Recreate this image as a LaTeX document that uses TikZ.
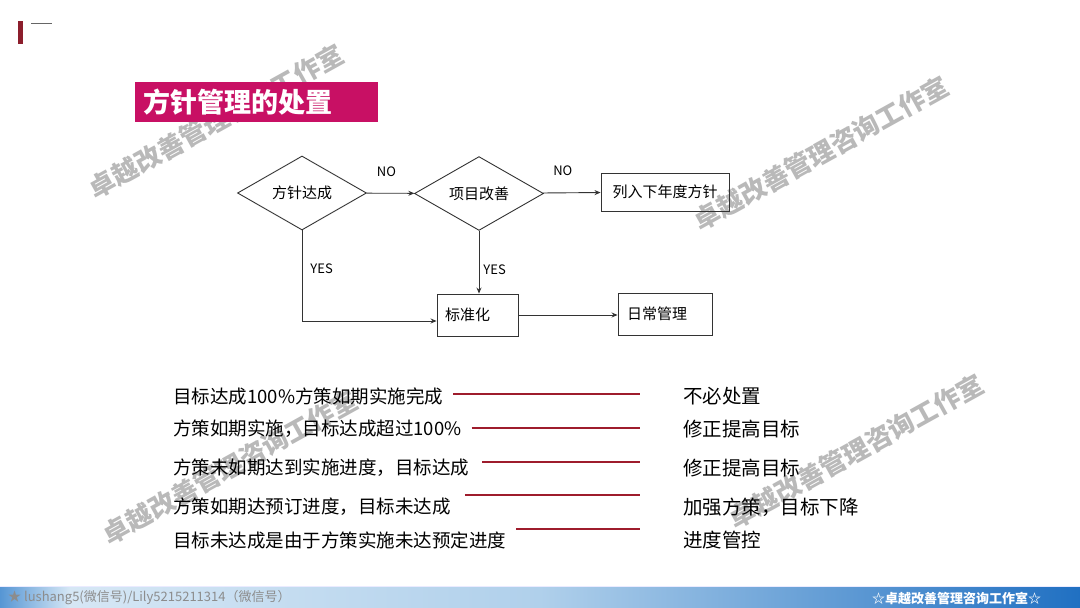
\documentclass[tikz,border=0pt]{standalone}
\usepackage{fontspec}
\setmainfont{Noto Sans CJK SC}
\usetikzlibrary{arrows.meta,shapes.geometric,positioning}
\definecolor{titlemag}{RGB}{200,16,100}
\definecolor{linkred}{RGB}{158,28,44}
\definecolor{markred}{RGB}{140,30,44}
\definecolor{barleft}{RGB}{86,150,212}
\definecolor{barlight}{RGB}{214,231,245}
\definecolor{barmid}{RGB}{176,208,235}
\definecolor{bardark}{RGB}{32,112,194}
\newcommand{\px}[1]{\fontsize{#1}{#1}\selectfont}

\begin{document}
\begin{tikzpicture}[
  x=1pt, y=-1pt,
  decision/.style={diamond, draw=black!80, line width=0.9pt, minimum width=129pt, minimum height=66pt, inner sep=0pt, font=\px{15}},
  process/.style={rectangle, draw=black!80, line width=0.9pt, inner ysep=0pt, font=\px{15}},
  flow/.style={draw=black!80, line width=0.9pt, -{Stealth[length=6pt,width=5pt]}},
  flow label/.style={font=\px{13}, inner sep=0pt},
  item/.style={anchor=west, inner sep=0pt, font=\px{18.5}},
  result/.style={anchor=west, inner sep=0pt, font=\px{19.5}},
  link/.style={draw=linkred, line width=1.8pt},
  watermark/.style={rotate=29, text=black!50, opacity=0.55, font=\bfseries\px{26}, inner sep=0pt}
]
  \fill[white] (0,0) rectangle (1080,608);
  \useasboundingbox (0,0) rectangle (1080,608);

  % watermarks
  \node[watermark] (wm1) at (216,121) {卓越改善管理咨询工作室};
  \node[watermark] (wm2) at (821,153) {卓越改善管理咨询工作室};
  \node[watermark] (wm3) at (230,467) {卓越改善管理咨询工作室};
  \node[watermark] (wm4) at (856,451) {卓越改善管理咨询工作室};

  % header
  \fill[markred] (18,21) rectangle (23,44);
  \draw[black!60, line width=0.6pt] (31,23) -- (52,23);
  \node[fill=titlemag, text=white, font=\bfseries\px{27}, anchor=north west,
        text width=227pt, inner xsep=8pt, inner ysep=0pt, minimum height=40pt, align=left] (title) at (135,82) {方针管理的处置};

  % flow chart
  \node[decision] (reach) at (302,193) {方针达成};
  \node[decision] (improve) at (479,193.5) {项目改善};
  \node[process, minimum width=128pt, minimum height=38pt] (nextyear) at (665,192) {列入下年度方针};
  \node[process, text width=65pt, inner xsep=8pt, minimum height=42pt, align=left] (standard) at (477.5,315) {标准化};
  \node[process, text width=76pt, inner xsep=9pt, minimum height=42pt, align=left] (daily) at (665,314) {日常管理};

  \draw[flow] (reach) -- node[flow label, midway, yshift=22pt, xshift=-4pt] {NO} (improve);
  \draw[flow] (improve) -- node[flow label, midway, yshift=22pt, xshift=-9pt] {NO} (nextyear);
  \draw[flow] (reach.south) |- node[flow label, pos=0.21, right=8pt] {YES} ([yshift=-6pt]standard.west);
  \draw[flow] (improve.south) -- node[flow label, pos=0.62, right=4pt] {YES} (improve.south |- standard.north);
  \draw[flow] (standard) -- (daily.west |- standard);

  % cases and measures
  \node[item] (c1) at (173,396) {目标达成100\%方策如期实施完成};
  \node[item] (c2) at (173,429) {方策如期实施，目标达成超过100\%};
  \node[item] (c3) at (173,468) {方策未如期达到实施进度，目标达成};
  \node[item] (c4) at (173,507) {方策如期达预订进度，目标未达成};
  \node[item] (c5) at (173,540) {目标未达成是由于方策实施未达预定进度};
  \node[result] (r1) at (683,396) {不必处置};
  \node[result] (r2) at (683,429) {修正提高目标};
  \node[result] (r3) at (683,468) {修正提高目标};
  \node[result] (r4) at (683,507) {加强方策，目标下降};
  \node[result] (r5) at (683,540) {进度管控};
  \draw[link] ([xshift=10pt,yshift=2pt]c1.east) -- ([xshift=-43pt,yshift=2pt]r1.west);
  \draw[link] ([xshift=10pt,yshift=1pt]c2.east) -- ([xshift=-43pt,yshift=1pt]r2.west);
  \draw[link] ([xshift=13pt,yshift=6pt]c3.east) -- ([xshift=-43pt,yshift=6pt]r3.west);
  \draw[link] ([xshift=14pt,yshift=12pt]c4.east) -- ([xshift=-43pt,yshift=12pt]r4.west);
  \draw[link] ([xshift=10pt,yshift=11pt]c5.east) -- ([xshift=-43pt,yshift=11pt]r5.west);

  % footer bar
  \fill[left color=barleft, right color=barlight] (0,586) rectangle (70,608);
  \fill[left color=barlight, right color=barmid] (70,586) rectangle (540,608);
  \fill[left color=barmid, right color=bardark] (540,586) rectangle (1080,608);
  \draw[blue!8, line width=1pt] (0,586.5) -- (1080,586.5);
  \node[anchor=west, inner sep=0pt, text=black!45, font=\px{13}] (wechat) at (8,598) {★ lushang5(微信号)/Lily5215211314（微信号）};
  \node[anchor=west, inner sep=0pt, text=white, font=\bfseries\px{13}] (studio) at (872,598) {☆卓越改善管理咨询工作室☆};
\end{tikzpicture}
\end{document}
